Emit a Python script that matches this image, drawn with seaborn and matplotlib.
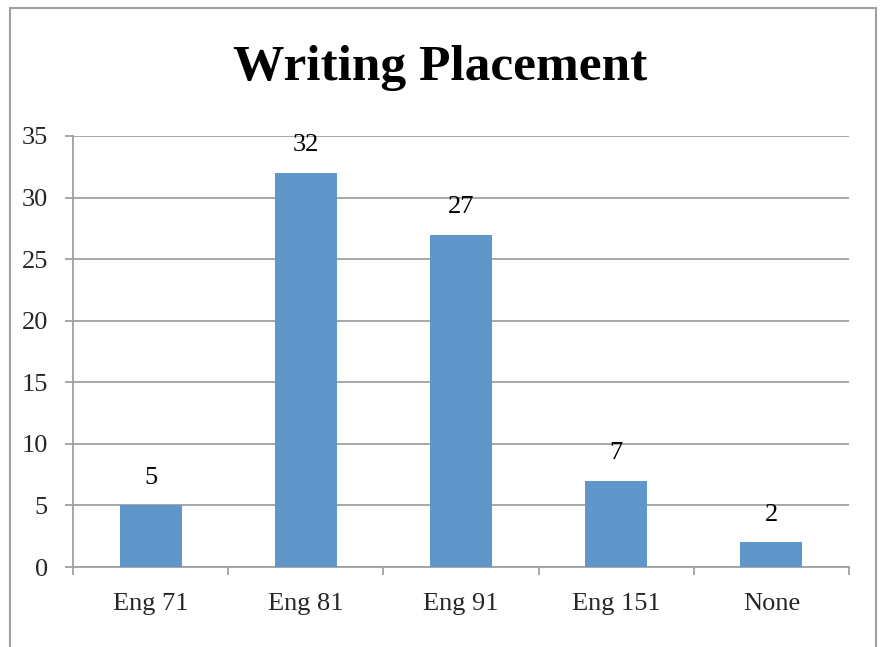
import matplotlib
matplotlib.use("Agg")
import matplotlib.pyplot as plt
import seaborn as sns
import pandas as pd
from matplotlib.patches import Rectangle

categories = ["Eng 71", "Eng 81", "Eng 91", "Eng 151", "None"]
counts = [5, 32, 27, 7, 2]
yticks = [0, 5, 10, 15, 20, 25, 30, 35]
title = "Writing Placement"

sns.set_theme(style="white")
plt.rcParams["font.family"] = ["Liberation Serif", "DejaVu Serif"]

df = pd.DataFrame({"category": categories, "count": counts})

fig = plt.figure(figsize=(8.81, 6.47), dpi=100)
W, H = 881, 647
ax = fig.add_axes([73 / W, 1 - 567 / H, (849 - 73) / W, (567 - 136) / H])

gray = "#A0A0A0"
sns.barplot(data=df, x="category", y="count", color="#6096C9", saturation=1,
            width=0.40, ax=ax, zorder=3)
for p in ax.patches:
    p.set_edgecolor("none")

ax.set_ylim(0, 35)
ax.set_xlim(-0.5, len(categories) - 0.5)
ax.set_yticks(yticks)
ax.set_yticklabels([str(v) for v in yticks], fontsize=19)
ax.yaxis.grid(True, color=gray, linewidth=1.3, zorder=0)
ax.set_axisbelow(True)
ax.tick_params(axis="y", length=6, width=1.3, color=gray, pad=12, left=True)

ax.set_xticks(range(len(categories)))
ax.set_xticklabels(categories, fontsize=19)
ax.tick_params(axis="x", which="major", length=0, pad=19)
ax.set_xticks([i - 0.5 for i in range(len(categories) + 1)], minor=True)
ax.tick_params(axis="x", which="minor", length=6, width=1.3, color=gray, bottom=True)

for s in ["top", "right"]:
    ax.spines[s].set_visible(False)
for s in ["left", "bottom"]:
    ax.spines[s].set_color(gray)
    ax.spines[s].set_linewidth(1.3)

ax.set_xlabel("")
ax.set_ylabel("")

for i, v in enumerate(counts):
    ax.annotate(str(v), (i, v), xytext=(0, 12), textcoords="offset points",
                ha="center", va="bottom", fontsize=19, color="black")

fig.text(0.5, 1 - 68 / H, title, ha="center", va="center", fontsize=37,
         fontweight="bold", color="black")

frame = Rectangle((10 / W, -0.1), (876 - 10) / W, 1.1 - 8 / H, transform=fig.transFigure,
                  fill=False, edgecolor=gray, linewidth=1.5, clip_on=False)
fig.patches.append(frame)

fig.savefig("out.png", dpi=100)
